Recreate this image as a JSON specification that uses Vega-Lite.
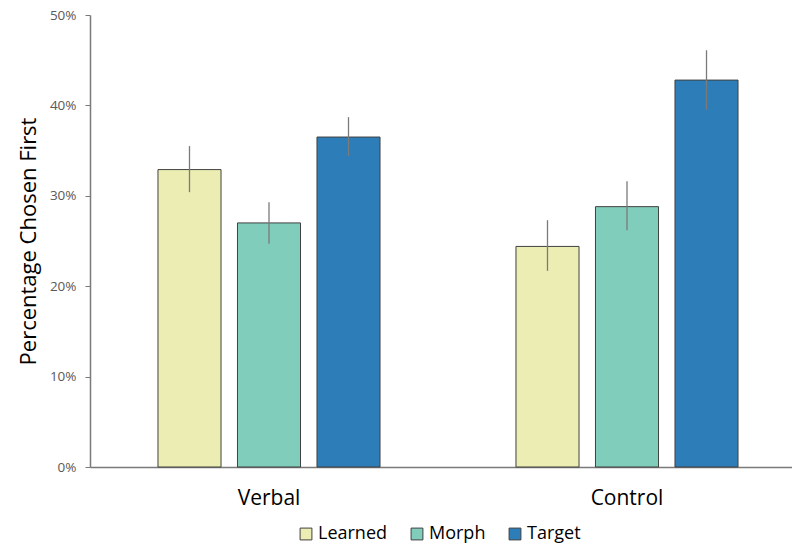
{
  "$schema": "https://vega.github.io/schema/vega-lite/v6.json",
  "autosize": {"type": "none"},
  "padding": {"left": 90, "top": 15, "right": 0, "bottom": 79},
  "width": 702,
  "height": 452,
  "background": "white",
  "config": {
    "font": "Open Sans",
    "view": {"stroke": null}
  },
  "data": {
    "values": [
      {"group": "Verbal", "cond": "Learned", "value": 0.329, "lo": 0.304, "hi": 0.355},
      {"group": "Verbal", "cond": "Morph", "value": 0.270, "lo": 0.247, "hi": 0.293},
      {"group": "Verbal", "cond": "Target", "value": 0.365, "lo": 0.344, "hi": 0.387},
      {"group": "Control", "cond": "Learned", "value": 0.244, "lo": 0.217, "hi": 0.273},
      {"group": "Control", "cond": "Morph", "value": 0.288, "lo": 0.262, "hi": 0.316},
      {"group": "Control", "cond": "Target", "value": 0.428, "lo": 0.395, "hi": 0.461}
    ]
  },
  "encoding": {
    "x": {
      "field": "group",
      "type": "nominal",
      "sort": ["Verbal", "Control"],
      "scale": {"range": [0, 716], "paddingInner": 0, "paddingOuter": 0},
      "axis": {
        "title": null,
        "labelAngle": 0,
        "labelFontSize": 21,
        "labelColor": "#000000",
        "labelPadding": 20,
        "ticks": false,
        "domainColor": "#7a7a7a",
        "domainWidth": 1.5
      }
    },
    "xOffset": {
      "field": "cond",
      "type": "nominal",
      "sort": ["Learned", "Morph", "Target"],
      "scale": {"paddingInner": 0.207, "paddingOuter": 0.855}
    }
  },
  "layer": [
    {
      "mark": {"type": "bar", "stroke": "#404040", "strokeWidth": 1},
      "encoding": {
        "y": {
          "field": "value",
          "type": "quantitative",
          "scale": {"domain": [0, 0.5], "nice": false},
          "axis": {
            "title": "Percentage Chosen First",
            "titleFontSize": 22,
            "titleFontWeight": "normal",
            "titleColor": "#000000",
            "titlePadding": 9,
            "format": ".0%",
            "values": [0, 0.1, 0.2, 0.3, 0.4, 0.5],
            "labelFontSize": 13.5,
            "labelColor": "#595959",
            "labelPadding": 9,
            "grid": false,
            "tickSize": 5,
            "tickColor": "#7a7a7a",
            "domainColor": "#7a7a7a",
            "domainWidth": 1.5
          }
        },
        "color": {
          "field": "cond",
          "type": "nominal",
          "sort": ["Learned", "Morph", "Target"],
          "scale": {"range": ["#ECEDB2", "#80CDBC", "#2D7EB8"]},
          "legend": {
            "title": null,
            "orient": "none",
            "direction": "horizontal",
            "legendX": 207,
            "legendY": 510,
            "symbolType": "square",
            "symbolSize": 140,
            "symbolStrokeColor": "#404040",
            "symbolStrokeWidth": 1,
            "symbolOpacity": 1,
            "labelFontSize": 18,
            "labelColor": "#000000",
            "columnPadding": 20,
            "labelOffset": 3
          }
        }
      }
    },
    {
      "mark": {"type": "rule", "color": "#7a7a7a", "strokeWidth": 1.3},
      "encoding": {
        "y": {"field": "lo", "type": "quantitative"},
        "y2": {"field": "hi"}
      }
    }
  ]
}
